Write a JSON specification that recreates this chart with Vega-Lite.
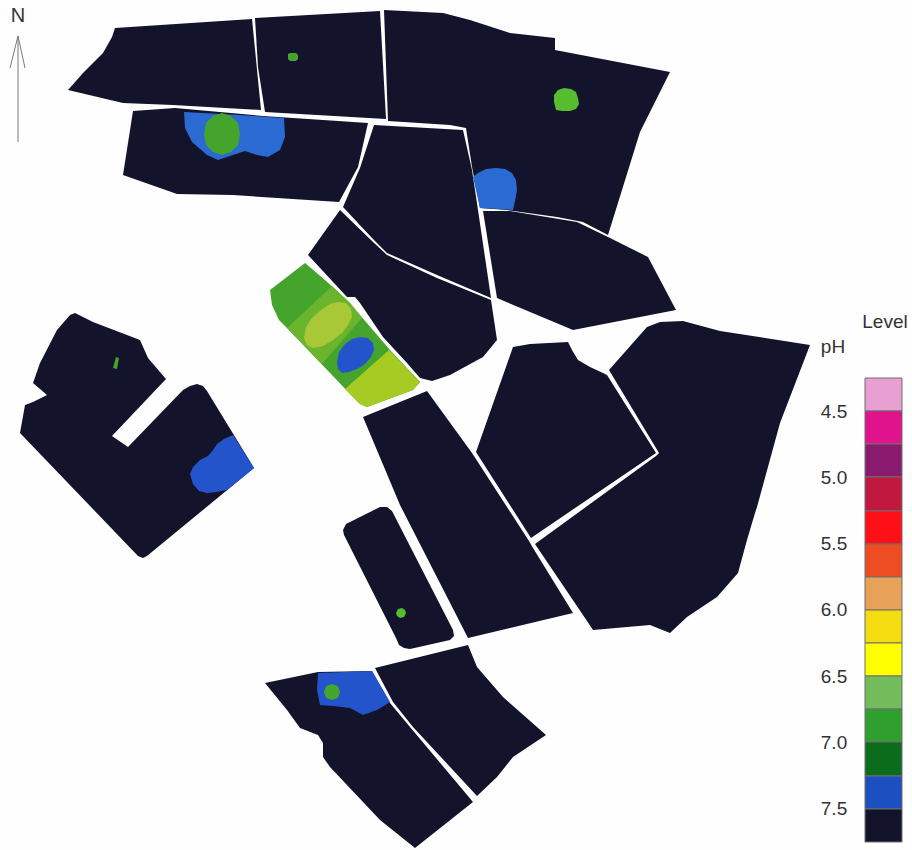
{"$schema":"https://vega.github.io/schema/vega-lite/v6.json","autosize":{"type":"fit","contains":"padding"},"width":912,"height":850,"padding":0,"background":"#fefefe","view":{"stroke":null},"projection":{"type":"identity","scale":1,"translate":[0,0]},"datasets":{"fields":[
{"type":"Feature","properties":{"level":"L14"},"geometry":{"type":"Polygon","coordinates":[[[115,28],[252,19],[261,110],[173,105],[123,103],[68,90],[83,73],[103,53],[112,37],[115,28]]]}},
{"type":"Feature","properties":{"level":"L14"},"geometry":{"type":"Polygon","coordinates":[[[255,18],[380,11],[386,119],[265,112],[258,67],[255,18]]]}},
{"type":"Feature","properties":{"level":"L14"},"geometry":{"type":"Polygon","coordinates":[[[384,10],[443,13],[470,20],[510,33],[555,38],[555,50],[670,72],[640,132],[622,190],[608,235],[583,222],[557,217],[507,210],[480,208],[472,167],[466,128],[450,125],[388,121],[384,10]]]}},
{"type":"Feature","properties":{"level":"L14"},"geometry":{"type":"Polygon","coordinates":[[[133,111],[175,108],[263,116],[368,123],[358,167],[339,202],[233,195],[177,194],[123,175],[133,111]]]}},
{"type":"Feature","properties":{"level":"L14"},"geometry":{"type":"Polygon","coordinates":[[[374,125],[463,130],[472,170],[478,210],[491,298],[437,275],[387,253],[372,238],[343,207],[360,168],[374,125]]]}},
{"type":"Feature","properties":{"level":"L14"},"geometry":{"type":"Polygon","coordinates":[[[340,210],[372,241],[387,255],[437,278],[491,300],[497,340],[483,357],[450,375],[432,381],[420,378],[407,363],[383,337],[360,303],[355,297],[347,297],[308,255],[340,210]]]}},
{"type":"Feature","properties":{"level":"green"},"geometry":{"type":"Polygon","coordinates":[[[305,263],[325,280],[350,303],[360,315],[390,350],[420,382],[413,390],[367,407],[360,404],[353,397],[287,328],[279,320],[272,305],[270,290],[283,280],[305,263]]]}},
{"type":"Feature","properties":{"level":"midgreen"},"geometry":{"type":"Polygon","coordinates":[[[287,328],[332,286],[350,303],[362,318],[322,364],[287,328]]]}},
{"type":"Feature","properties":{"level":"lime"},"geometry":{"type":"Polygon","coordinates":[[[345,389],[389,350],[420,382],[413,390],[367,407],[360,404],[353,397],[345,389]]]}},
{"type":"Feature","properties":{"level":"lime2"},"geometry":{"type":"Polygon","coordinates":[[[304,338],[306,327],[312,318],[321,310],[330,304],[338,302],[346,303],[351,309],[352,317],[348,325],[342,333],[333,340],[323,346],[313,348],[307,345],[304,338]]]}},
{"type":"Feature","properties":{"level":"blue"},"geometry":{"type":"Polygon","coordinates":[[[337,362],[339,352],[345,344],[352,339],[360,337],[368,338],[373,343],[374,350],[371,357],[365,364],[357,369],[349,372],[342,373],[338,369],[337,362]]]}},
{"type":"Feature","properties":{"level":"L14"},"geometry":{"type":"Polygon","coordinates":[[[483,211],[510,211],[577,222],[608,237],[648,257],[676,310],[573,330],[497,298],[483,211]]]}},
{"type":"Feature","properties":{"level":"L14"},"geometry":{"type":"Polygon","coordinates":[[[513,347],[530,344],[568,342],[572,350],[578,360],[590,367],[603,373],[607,375],[656,453],[531,538],[476,452],[513,347]]]}},
{"type":"Feature","properties":{"level":"L14"},"geometry":{"type":"Polygon","coordinates":[[[609,370],[647,327],[660,322],[683,321],[720,331],[810,345],[780,423],[757,507],[755,513],[747,540],[738,573],[717,597],[687,617],[670,633],[650,625],[593,630],[585,618],[535,544],[656,456],[659,453],[609,370]]]}},
{"type":"Feature","properties":{"level":"L14"},"geometry":{"type":"Polygon","coordinates":[[[363,417],[427,391],[472,453],[529,541],[533,548],[573,613],[468,638],[400,505],[363,417]]]}},
{"type":"Feature","properties":{"level":"L14"},"geometry":{"type":"Polygon","coordinates":[[[343,530],[346,524],[380,507],[387,507],[392,511],[453,630],[454,636],[450,640],[410,649],[404,648],[399,645],[396,638],[344,535],[343,530]]]}},
{"type":"Feature","properties":{"level":"L14"},"geometry":{"type":"Polygon","coordinates":[[[375,668],[468,645],[477,667],[503,697],[546,735],[513,757],[497,777],[477,796],[413,727],[393,702],[375,668]]]}},
{"type":"Feature","properties":{"level":"L14"},"geometry":{"type":"Polygon","coordinates":[[[265,683],[318,672],[372,671],[390,703],[410,727],[473,802],[415,848],[380,820],[330,767],[323,757],[323,743],[318,735],[300,728],[287,710],[265,683]]]}},
{"type":"Feature","properties":{"level":"L14"},"geometry":{"type":"Polygon","coordinates":[[[75,313],[93,322],[140,340],[148,358],[166,379],[112,436],[128,447],[183,390],[190,386],[197,384],[203,386],[207,391],[254,468],[147,556],[143,558],[138,556],[20,433],[25,405],[33,402],[47,395],[33,383],[40,363],[57,330],[70,315],[75,313]]]}},
{"type":"Feature","properties":{"level":"green"},"geometry":{"type":"Polygon","coordinates":[[[288,54],[290,53],[296,53],[298,55],[298,59],[296,61],[290,61],[288,59],[288,54]]]}},
{"type":"Feature","properties":{"level":"lightgreen"},"geometry":{"type":"Polygon","coordinates":[[[554,102],[554,95],[558,90],[564,88],[571,89],[576,92],[578,98],[579,104],[576,109],[570,111],[562,111],[556,110],[554,102]]]}},
{"type":"Feature","properties":{"level":"skyblue"},"geometry":{"type":"Polygon","coordinates":[[[473,177],[478,173],[486,169],[496,168],[505,169],[512,173],[516,180],[517,190],[515,201],[513,210],[480,208],[473,177]]]}},
{"type":"Feature","properties":{"level":"skyblue"},"geometry":{"type":"Polygon","coordinates":[[[184,112],[185,128],[192,142],[207,155],[218,160],[233,155],[245,151],[257,155],[268,157],[280,150],[285,137],[284,118],[240,115],[184,112]]]}},
{"type":"Feature","properties":{"level":"green"},"geometry":{"type":"Polygon","coordinates":[[[240,134],[238,145],[231,152],[222,155],[213,152],[206,145],[204,134],[206,123],[213,116],[222,113],[231,116],[238,123],[240,134]]]}},
{"type":"Feature","properties":{"level":"blue"},"geometry":{"type":"Polygon","coordinates":[[[233,435],[254,468],[227,490],[216,492],[207,493],[199,491],[193,484],[190,474],[193,467],[200,460],[208,456],[213,450],[217,444],[224,439],[233,435]]]}},
{"type":"Feature","properties":{"level":"green"},"geometry":{"type":"Polygon","coordinates":[[[116,357],[119,358],[117,369],[113,368],[116,357]]]}},
{"type":"Feature","properties":{"level":"lightgreen"},"geometry":{"type":"Polygon","coordinates":[[[396,613],[398,609],[402,608],[405,610],[406,613],[404,617],[400,618],[397,616],[396,613]]]}},
{"type":"Feature","properties":{"level":"blue"},"geometry":{"type":"Polygon","coordinates":[[[318,673],[372,671],[390,702],[377,710],[363,715],[350,708],[333,706],[320,705],[317,690],[318,673]]]}},
{"type":"Feature","properties":{"level":"green"},"geometry":{"type":"Polygon","coordinates":[[[324,692],[326,686],[332,684],[338,686],[340,692],[338,698],[332,700],[326,698],[324,692]]]}}
],"legend":[
{"type":"Feature","properties":{"level":"L1"},"geometry":{"type":"Polygon","coordinates":[[[865,378],[902,378],[902,411],[865,411],[865,378]]]}},
{"type":"Feature","properties":{"level":"L2"},"geometry":{"type":"Polygon","coordinates":[[[865,411],[902,411],[902,444],[865,444],[865,411]]]}},
{"type":"Feature","properties":{"level":"L3"},"geometry":{"type":"Polygon","coordinates":[[[865,444],[902,444],[902,477],[865,477],[865,444]]]}},
{"type":"Feature","properties":{"level":"L4"},"geometry":{"type":"Polygon","coordinates":[[[865,477],[902,477],[902,511],[865,511],[865,477]]]}},
{"type":"Feature","properties":{"level":"L5"},"geometry":{"type":"Polygon","coordinates":[[[865,511],[902,511],[902,544],[865,544],[865,511]]]}},
{"type":"Feature","properties":{"level":"L6"},"geometry":{"type":"Polygon","coordinates":[[[865,544],[902,544],[902,577],[865,577],[865,544]]]}},
{"type":"Feature","properties":{"level":"L7"},"geometry":{"type":"Polygon","coordinates":[[[865,577],[902,577],[902,610],[865,610],[865,577]]]}},
{"type":"Feature","properties":{"level":"L8"},"geometry":{"type":"Polygon","coordinates":[[[865,610],[902,610],[902,643],[865,643],[865,610]]]}},
{"type":"Feature","properties":{"level":"L9"},"geometry":{"type":"Polygon","coordinates":[[[865,643],[902,643],[902,676],[865,676],[865,643]]]}},
{"type":"Feature","properties":{"level":"L10"},"geometry":{"type":"Polygon","coordinates":[[[865,676],[902,676],[902,709],[865,709],[865,676]]]}},
{"type":"Feature","properties":{"level":"L11"},"geometry":{"type":"Polygon","coordinates":[[[865,709],[902,709],[902,742],[865,742],[865,709]]]}},
{"type":"Feature","properties":{"level":"L12"},"geometry":{"type":"Polygon","coordinates":[[[865,742],[902,742],[902,776],[865,776],[865,742]]]}},
{"type":"Feature","properties":{"level":"L13"},"geometry":{"type":"Polygon","coordinates":[[[865,776],[902,776],[902,809],[865,809],[865,776]]]}},
{"type":"Feature","properties":{"level":"L14"},"geometry":{"type":"Polygon","coordinates":[[[865,809],[902,809],[902,842],[865,842],[865,809]]]}}
],"arrow":[
{"type":"Feature","properties":{},"geometry":{"type":"LineString","coordinates":[[18,142],[18,36]]}},
{"type":"Feature","properties":{},"geometry":{"type":"LineString","coordinates":[[10,68],[18,36],[25,68]]}}
],"labels":[
{"t":"N","lon":18,"lat":16,"s":"title"},
{"t":"Level","lon":885,"lat":322,"s":"label"},
{"t":"pH","lon":833,"lat":347,"s":"label"},
{"t":"4.5","lon":834,"lat":412,"s":"label"},
{"t":"5.0","lon":834,"lat":478,"s":"label"},
{"t":"5.5","lon":834,"lat":544,"s":"label"},
{"t":"6.0","lon":834,"lat":610,"s":"label"},
{"t":"6.5","lon":834,"lat":677,"s":"label"},
{"t":"7.0","lon":834,"lat":743,"s":"label"},
{"t":"7.5","lon":834,"lat":809,"s":"label"}
]},
"layer":[
{"data":{"name":"fields"},"mark":{"type":"geoshape","strokeWidth":1,"strokeJoin":"round"},"encoding":{"color":{"field":"properties.level","type":"nominal","legend":null,"scale":{"domain":["L1","L2","L3","L4","L5","L6","L7","L8","L9","L10","L11","L12","L13","L14","green","midgreen","lime","lime2","lightgreen","skyblue","blue"],"range":["#e8a0d2","#e0138c","#8a1a6e","#c0183e","#ff0f17","#ee4c22","#e8a158","#f5dc10","#ffff00","#72bc5c","#2fa030","#0b6c1c","#1c50c0","#13132b","#44a42c","#6ab42e","#a6cc24","#a8c838","#58bc30","#2a6ad2","#2454cc"]}}}},
{"data":{"name":"legend"},"mark":{"type":"geoshape","stroke":"#6e6e6e","strokeWidth":1},"encoding":{"color":{"field":"properties.level","type":"nominal","legend":null}}},
{"data":{"name":"arrow"},"mark":{"type":"geoshape","filled":false,"stroke":"#7a7a7a","strokeWidth":1},"encoding":{}},
{"data":{"name":"labels"},"transform":[{"filter":"datum.s=='label'"}],"mark":{"type":"text","font":"Liberation Sans","fontSize":19,"fill":"#333333","align":"center","baseline":"middle"},"encoding":{"longitude":{"field":"lon","type":"quantitative"},"latitude":{"field":"lat","type":"quantitative"},"text":{"field":"t","type":"nominal"}}},
{"data":{"name":"labels"},"transform":[{"filter":"datum.s=='title'"}],"mark":{"type":"text","font":"Liberation Sans","fontSize":20,"fill":"#333333","align":"center","baseline":"middle"},"encoding":{"longitude":{"field":"lon","type":"quantitative"},"latitude":{"field":"lat","type":"quantitative"},"text":{"field":"t","type":"nominal"}}}
]}
